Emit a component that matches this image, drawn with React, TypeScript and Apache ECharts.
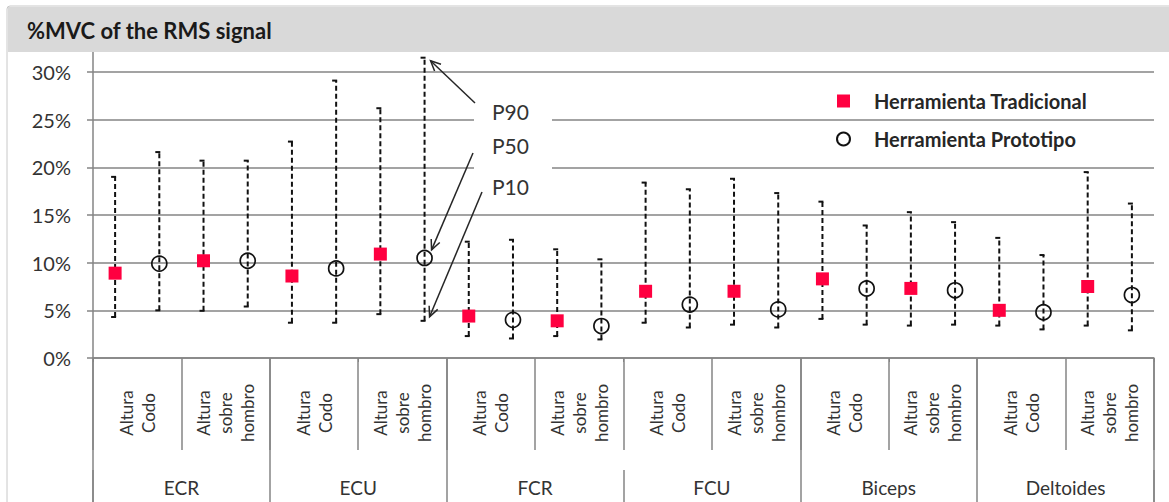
import React, { useEffect, useRef } from "react";
import * as echarts from "echarts";

const muscles = ["ECR", "ECU", "FCR", "FCU", "Biceps", "Deltoides"];
const heights = ["Altura\nCodo", "Altura\nsobre\nhombro"];
const tools = ["Herramienta Tradicional", "Herramienta Prototipo"];
const yTicks = [0, 5, 10, 15, 20, 25, 30];
const annotationLabels = ["P90", "P50", "P10"];

// One value per (muscle, height) group, in order ECR-Codo, ECR-sobre, ECU-Codo, ...
const tradP10 = [4.3, 4.95, 3.7, 4.6, 2.3, 2.3, 3.7, 3.5, 4.1, 3.4, 3.4, 3.4];
const tradP50 = [8.9, 10.2, 8.6, 10.9, 4.4, 3.9, 7.0, 7.0, 8.3, 7.3, 5.0, 7.5];
const tradP90 = [19.0, 20.7, 22.7, 26.2, 12.2, 11.4, 18.4, 18.8, 16.4, 15.3, 12.6, 19.5];
const protoP10 = [5.0, 5.4, 3.7, 3.9, 2.05, 1.95, 3.2, 3.2, 3.5, 3.5, 3.0, 2.9];
const protoP50 = [9.9, 10.2, 9.4, 10.5, 4.0, 3.35, 5.6, 5.1, 7.3, 7.1, 4.8, 6.6];
const protoP90 = [21.6, 20.7, 29.1, 31.5, 12.4, 10.35, 17.7, 17.3, 13.9, 14.25, 10.8, 16.2];

const groupLabels: string[] = [];
muscles.forEach(() => heights.forEach((h) => groupLabels.push(h)));
const categories: string[] = [];
muscles.forEach((m) =>
  heights.forEach((h) => tools.forEach((t) => categories.push(`${m}|${h}|${t}`)))
);

const GRAY = "#848484";
const FONT = "Lato";
const RED = "#FF0040";

export default function App() {
  const ref = useRef<HTMLDivElement>(null);
  useEffect(() => {
    if (!ref.current) return;
    const chart = echarts.init(ref.current, undefined, { renderer: "svg" });

    const tradMed = tradP50.map((v, g) => [g * 2, v]);
    const protoMed = protoP50.map((v, g) => [g * 2 + 1, v]);
    const bars: number[][] = [];
    tradP50.forEach((_, g) => {
      bars.push([g * 2, tradP10[g], tradP90[g]]);
      bars.push([g * 2 + 1, protoP10[g], protoP90[g]]);
    });

    const option: any = {
      animation: false,
      backgroundColor: "#ffffff",
      grid: [
        { left: 93, right: 15, top: 72, bottom: 144 },
        { left: 93, right: 15, top: 52, bottom: 144 },
      ],
      legend: {
        orient: "vertical",
        left: 831,
        top: 86,
        itemWidth: 13,
        itemHeight: 13,
        itemGap: 18,
        textStyle: {
          fontFamily: FONT,
          fontWeight: "bold",
          fontSize: 20,
          color: "#262626",
          padding: [0, 0, 0, 19],
        },
        data: [
          { name: tools[0], icon: "rect" },
          { name: tools[1], icon: "circle" },
        ],
      },
      xAxis: [
        {
          type: "category",
          gridIndex: 0,
          data: categories,
          axisLine: { show: true, lineStyle: { color: GRAY, width: 1.5 } },
          axisTick: { show: true, length: 4, lineStyle: { color: GRAY } },
          axisLabel: { show: false },
          splitLine: { show: false },
        },
        {
          type: "category",
          gridIndex: 0,
          position: "bottom",
          data: groupLabels,
          axisLine: { show: false },
          axisTick: { show: true, length: 92, interval: 0, lineStyle: { color: GRAY, width: 1.5 } },
          axisLabel: {
            interval: 0,
            rotate: 90,
            align: "center",
            verticalAlign: "middle",
            margin: 55,
            fontFamily: FONT,
            fontSize: 17,
            lineHeight: 22,
            color: "#333",
          },
        },
        {
          type: "category",
          gridIndex: 0,
          position: "bottom",
          data: muscles,
          axisLine: { show: false },
          axisTick: {
            show: true,
            length: 144,
            interval: (i: number) => i !== 3,
            lineStyle: { color: GRAY, width: 1.5 },
          },
          axisLabel: {
            interval: 0,
            margin: 129,
            verticalAlign: "middle",
            fontFamily: FONT,
            fontSize: 19,
            color: "#333",
          },
        },
        {
          type: "category",
          gridIndex: 0,
          position: "bottom",
          offset: 112,
          data: muscles,
          axisLine: { show: false },
          axisTick: {
            show: true,
            length: 32,
            interval: (i: number) => i === 0 || i === 3,
            lineStyle: { color: GRAY, width: 1.5 },
          },
          axisLabel: { show: false },
        },
        { type: "category", gridIndex: 1, data: categories, show: false },
      ],
      yAxis: [
        {
          type: "value",
          gridIndex: 0,
          min: yTicks[0],
          max: yTicks[yTicks.length - 1],
          interval: 5,
          axisLine: { show: false },
          axisTick: { show: true, length: 6, lineStyle: { color: GRAY, width: 1.5 } },
          axisLabel: {
            formatter: "{value}%",
            margin: 22,
            fontFamily: FONT,
            fontSize: 20,
            color: "#333",
          },
          splitLine: { show: true, lineStyle: { color: GRAY, width: 1.5 } },
        },
        {
          type: "value",
          gridIndex: 1,
          min: 0,
          max: 1,
          axisLine: { show: true, lineStyle: { color: GRAY, width: 1.5 } },
          axisTick: { show: false },
          axisLabel: { show: false },
          splitLine: { show: false },
        },
      ],
      series: [
        {
          type: "custom",
          name: "range",
          xAxisIndex: 0,
          yAxisIndex: 0,
          clip: false,
          z: 3,
          encode: { x: 0, y: [1, 2] },
          data: bars,
          renderItem: (params: any, api: any) => {
            const x = api.value(0);
            const lo = api.coord([x, api.value(1)]);
            const hi = api.coord([x, api.value(2)]);
            const style = { stroke: "#111", lineWidth: 2 };
            return {
              type: "group",
              children: [
                {
                  type: "line",
                  shape: { x1: lo[0], y1: lo[1], x2: hi[0], y2: hi[1] },
                  style: { ...style, lineDash: [5, 3] },
                },
                {
                  type: "line",
                  shape: { x1: hi[0] - 4, y1: hi[1], x2: hi[0] + 1, y2: hi[1] },
                  style: { ...style, lineWidth: 2 },
                },
                {
                  type: "line",
                  shape: { x1: lo[0] - 4, y1: lo[1], x2: lo[0] + 1, y2: lo[1] },
                  style: { ...style, lineWidth: 2 },
                },
              ],
            };
          },
        },
        {
          type: "scatter",
          name: tools[0],
          xAxisIndex: 0,
          yAxisIndex: 0,
          symbol: "rect",
          symbolSize: 13,
          z: 4,
          itemStyle: { color: RED, opacity: 1 },
          data: tradMed,
        },
        {
          type: "scatter",
          name: tools[1],
          xAxisIndex: 0,
          yAxisIndex: 0,
          symbol: "circle",
          symbolSize: 15,
          z: 4,
          itemStyle: {
            color: "rgba(255,255,255,0)",
            borderColor: "#111",
            borderWidth: 1.7,
            opacity: 1,
          },
          data: protoMed,
        },
      ],
    };
    chart.setOption(option);

    // annotation arrows target the ECU / Altura sobre hombro / Prototipo range
    const g = 3;
    const cat = g * 2 + 1;
    const conv = (v: number) =>
      chart.convertToPixel({ xAxisIndex: 0, yAxisIndex: 0 }, [cat, v]) as number[];
    const t90 = conv(protoP90[g]);
    const t50 = conv(protoP50[g]);
    const t10 = conv(protoP10[g]);
    const arrows = [
      { s: [475, 103], e: [t90[0] + 6, t90[1] + 3] },
      { s: [473, 153], e: [t50[0] + 7, t50[1] - 8] },
      { s: [482, 192], e: [t10[0] + 5, t10[1] - 4] },
    ];
    const arrowEls: any[] = [];
    arrows.forEach((a) => {
      const dx = a.e[0] - a.s[0];
      const dy = a.e[1] - a.s[1];
      const len = Math.hypot(dx, dy);
      const ux = dx / len;
      const uy = dy / len;
      const head = 11;
      const ang = (25 * Math.PI) / 180;
      const rot = (c: number, s: number) => [ux * c - uy * s, ux * s + uy * c];
      const r1 = rot(Math.cos(ang), Math.sin(ang));
      const r2 = rot(Math.cos(ang), -Math.sin(ang));
      arrowEls.push({
        type: "line",
        z: 20,
        shape: { x1: a.s[0], y1: a.s[1], x2: a.e[0], y2: a.e[1] },
        style: { stroke: "#262626", lineWidth: 1.5 },
      });
      arrowEls.push({
        type: "polyline",
        z: 20,
        shape: {
          points: [
            [a.e[0] - head * r1[0], a.e[1] - head * r1[1]],
            [a.e[0], a.e[1]],
            [a.e[0] - head * r2[0], a.e[1] - head * r2[1]],
          ],
        },
        style: { stroke: "#262626", lineWidth: 1.5, fill: "none" },
      });
    });

    chart.setOption({
      graphic: [
        {
          type: "rect",
          z: 1,
          shape: { x: 7, y: 6, width: 1200, height: 600, r: 3 },
          style: { fill: "none", stroke: "#c8c8c8", lineWidth: 1 },
        },
        {
          type: "rect",
          z: 1,
          shape: { x: 8, y: 7, width: 1161, height: 45 },
          style: { fill: "#d9d9d9" },
        },
        {
          type: "text",
          z: 2,
          x: 27,
          y: 30,
          style: {
            text: "%MVC of the RMS signal",
            fontFamily: FONT,
            fontWeight: "bold",
            fontSize: 22,
            fill: "#1a1a1a",
            textVerticalAlign: "middle",
          },
        },
        {
          type: "rect",
          z: 10,
          shape: { x: 474, y: 98, width: 78, height: 107 },
          style: { fill: "#ffffff" },
        },
        ...annotationLabels.map((t, i) => ({
          type: "text",
          z: 21,
          x: 492,
          y: [111, 145, 186][i],
          style: {
            text: t,
            fontFamily: FONT,
            fontSize: 21,
            fill: "#333",
            textVerticalAlign: "middle",
          },
        })),
        ...arrowEls,
      ],
    });

    return () => chart.dispose();
  }, []);
  return (
    <div
      ref={ref}
      style={{ position: "absolute", left: 0, top: 0, width: 1169, height: 502 }}
    />
  );
}
